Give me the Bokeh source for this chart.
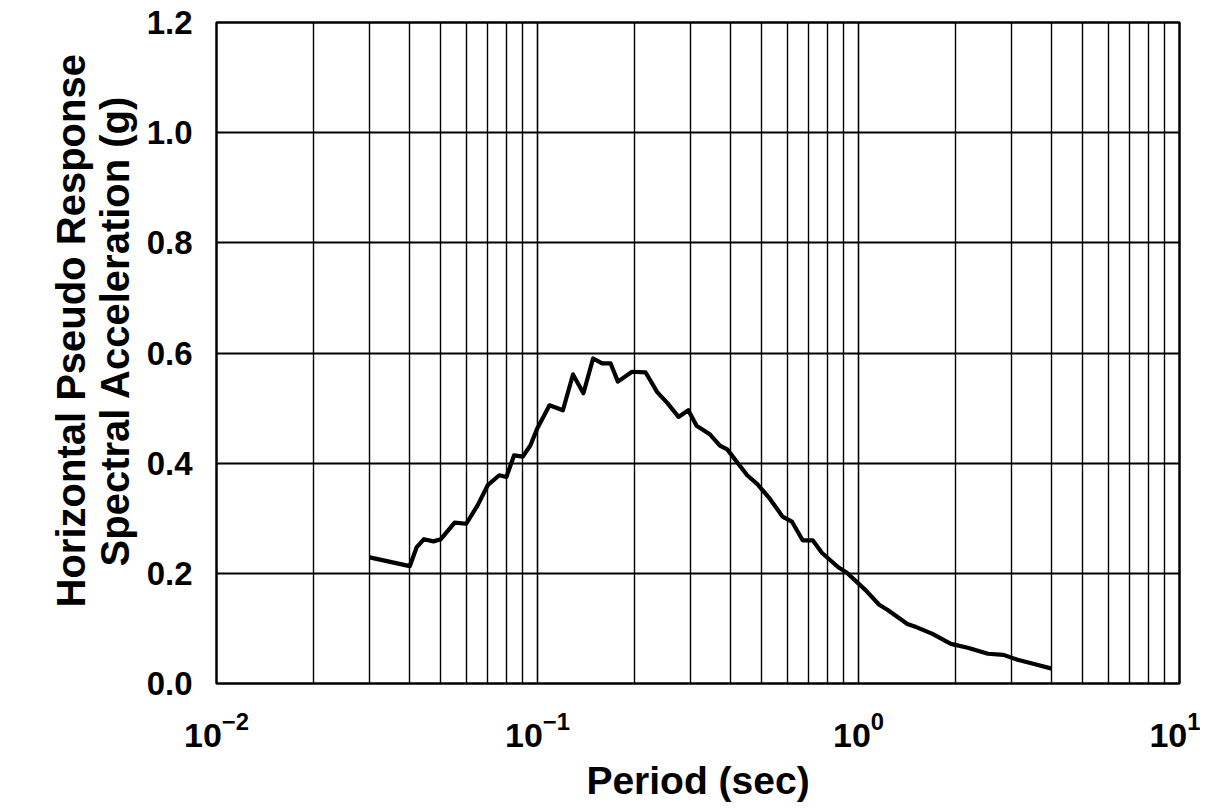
from bokeh.plotting import figure
from bokeh.models import FixedTicker, Range1d, CustomJSTickFormatter
from bokeh.embed import file_html
from bokeh.resources import INLINE

# Period (sec) and horizontal pseudo response spectral acceleration (g)
period = [0.03, 0.04, 0.042, 0.0443, 0.0474, 0.05, 0.0552, 0.06, 0.065, 0.070,
          0.076, 0.080, 0.0845, 0.090, 0.095, 0.10, 0.109, 0.12, 0.129, 0.139,
          0.149, 0.159, 0.169, 0.178, 0.197, 0.217, 0.236, 0.254, 0.275, 0.295,
          0.313, 0.345, 0.37, 0.39, 0.45, 0.484, 0.53, 0.58, 0.62, 0.67,
          0.72, 0.77, 0.865, 0.92, 1.05, 1.16, 1.23, 1.42, 1.52, 1.70,
          1.94, 2.19, 2.53, 2.83, 3.13, 3.5, 4.0]
psa = [0.229, 0.213, 0.247, 0.262, 0.258, 0.262, 0.292, 0.290, 0.323, 0.360,
       0.378, 0.375, 0.414, 0.412, 0.432, 0.464, 0.505, 0.496, 0.561, 0.527,
       0.590, 0.581, 0.581, 0.548, 0.566, 0.565, 0.529, 0.509, 0.484, 0.496,
       0.468, 0.452, 0.432, 0.425, 0.378, 0.362, 0.335, 0.303, 0.294, 0.260,
       0.260, 0.237, 0.211, 0.201, 0.170, 0.143, 0.134, 0.108, 0.102, 0.090,
       0.072, 0.065, 0.054, 0.052, 0.043, 0.036, 0.027]

x_major = [0.01, 0.1, 1.0, 10.0]
x_minor = [m * d for d in (0.01, 0.1, 1.0) for m in range(2, 10)]
y_ticks = [0.0, 0.2, 0.4, 0.6, 0.8, 1.0, 1.2]

FONT = "Liberation Sans"
NB = "\u00a0" * 4

p = figure(width=1200, height=804, x_axis_type="log",
           x_range=Range1d(0.01, 10), y_range=Range1d(0, 1.2),
           output_backend="svg", toolbar_location=None,
           min_border_left=216, min_border_right=21,
           min_border_top=22, min_border_bottom=112)

p.line(period, psa, line_color="black", line_width=4.2, line_join="round")

p.xaxis.ticker = FixedTicker(ticks=x_major, minor_ticks=x_minor)
p.yaxis.ticker = FixedTicker(ticks=y_ticks)
p.yaxis.formatter = CustomJSTickFormatter(code="return tick.toFixed(1);")

for ax in (p.xaxis, p.yaxis):
    ax.axis_line_color = None
    ax.major_tick_line_color = None
    ax.minor_tick_line_color = None
    ax.major_label_text_font = FONT
    ax.major_label_text_font_style = "bold"
    ax.major_label_text_color = "black"
    ax.axis_label_text_font = FONT
    ax.axis_label_text_font_style = "bold"
    ax.axis_label_text_color = "black"

p.yaxis.major_label_text_font_size = "33px"
p.yaxis.major_label_standoff = 18
p.xaxis.major_label_text_font_size = "34px"
p.xaxis.major_label_standoff = 22

p.xaxis.axis_label = "Period (sec)"
p.xaxis.axis_label_text_font_size = "39px"
p.xaxis.axis_label_standoff = 9
p.yaxis.axis_label = (NB + "Horizontal Pseudo Response" + "\n"
                      + NB + "Spectral Acceleration (g)")
p.yaxis.axis_label_text_font_size = "40px"
p.yaxis.axis_label_text_line_height = 1.0
p.yaxis.axis_label_standoff = 7

p.xgrid.grid_line_color = "black"
p.xgrid.grid_line_width = 1.6
p.xgrid.minor_grid_line_color = "black"
p.xgrid.minor_grid_line_width = 1.4
p.ygrid.grid_line_color = "black"
p.ygrid.grid_line_width = 2

p.outline_line_color = "black"
p.outline_line_width = 2.5
p.background_fill_color = "white"
p.border_fill_color = "white"

open("out.html", "w").write(file_html(p, INLINE))
